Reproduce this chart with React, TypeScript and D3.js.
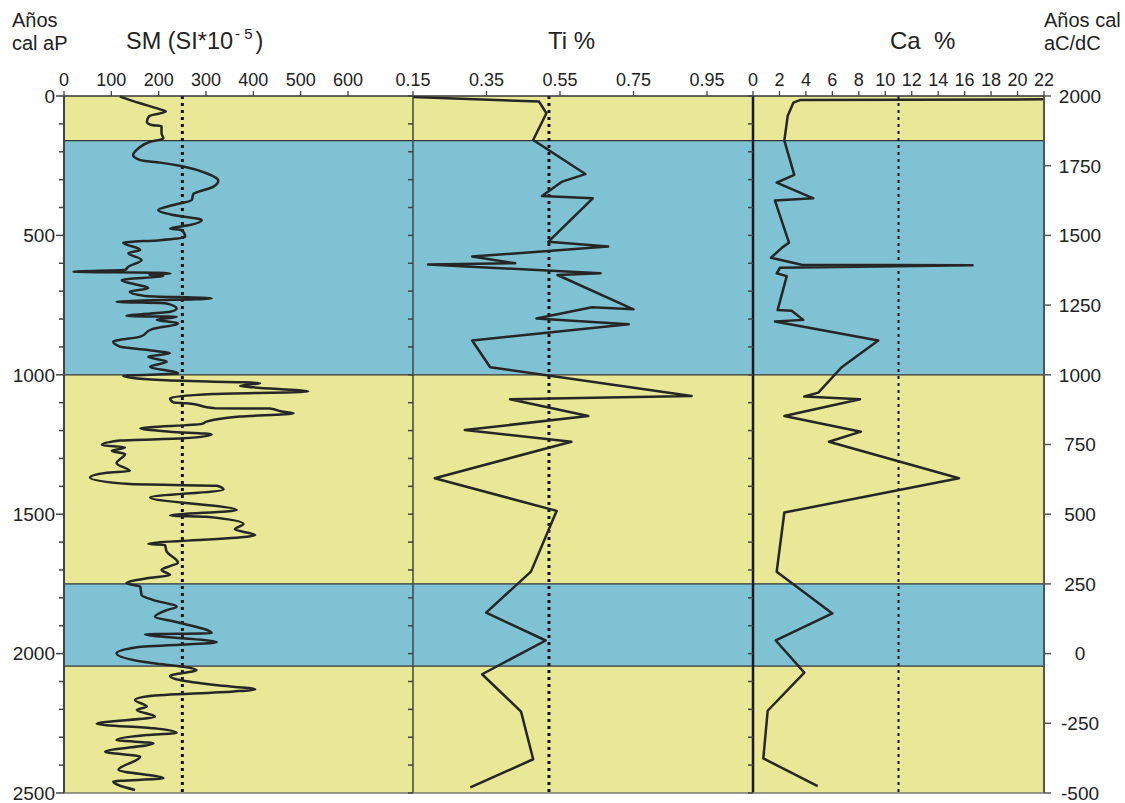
import * as d3 from "d3";

// depth in cal yr BP (left axis)
const smDepth = [2, 26, 48, 56, 72, 92, 104, 108, 134, 152, 164, 188, 212, 230, 239, 253, 277, 304, 325, 352, 373, 391, 409, 427, 445, 463, 475, 481, 505, 517, 526, 552, 564, 588, 612, 624, 630, 634, 637, 641, 645, 660, 690, 702, 717, 726, 738, 744, 762, 774, 789, 792, 803, 815, 837, 863, 881, 899, 911, 923, 935, 953, 971, 995, 1004, 1019, 1030, 1040, 1045, 1060, 1069, 1084, 1099, 1102, 1120, 1121, 1132, 1138, 1150, 1168, 1176, 1192, 1204, 1214, 1228, 1236, 1252, 1261, 1273, 1284, 1317, 1345, 1351, 1368, 1392, 1398, 1411, 1440, 1485, 1505, 1509, 1535, 1554, 1575, 1581, 1607, 1610, 1634, 1674, 1686, 1700, 1718, 1730, 1748, 1760, 1790, 1808, 1832, 1844, 1868, 1886, 1927, 1931, 1959, 1977, 1999, 2035, 2047, 2059, 2080, 2095, 2113, 2128, 2136, 2152, 2166, 2190, 2202, 2226, 2252, 2268, 2284, 2292, 2310, 2322, 2352, 2370, 2417, 2447, 2459, 2489];
const smValue = [118, 161, 203, 215, 180, 175, 185, 206, 206, 210, 182, 157, 146, 161, 203, 252, 301, 326, 316, 273, 270, 231, 199, 231, 291, 266, 224, 249, 256, 203, 125, 161, 136, 164, 136, 129, 20, 200, 225, 180, 210, 122, 178, 139, 171, 312, 111, 217, 238, 224, 132, 238, 196, 241, 185, 161, 104, 118, 178, 224, 178, 217, 182, 241, 125, 203, 414, 372, 400, 516, 316, 224, 231, 259, 319, 435, 460, 485, 372, 301, 291, 161, 224, 312, 252, 118, 80, 129, 101, 129, 111, 139, 90, 55, 139, 323, 337, 182, 365, 224, 301, 379, 361, 404, 386, 178, 213, 217, 241, 224, 206, 224, 175, 132, 161, 164, 189, 238, 217, 192, 235, 312, 171, 323, 154, 111, 189, 252, 280, 224, 245, 319, 404, 358, 182, 150, 175, 154, 192, 69, 189, 238, 175, 111, 189, 87, 161, 115, 210, 104, 150];

const tiDepth = [4, 20, 62, 158, 280, 307, 359, 367, 523, 540, 576, 600, 604, 636, 642, 765, 758, 798, 819, 877, 973, 1076, 1088, 1148, 1198, 1240, 1371, 1488, 1706, 1853, 1953, 2074, 2208, 2379, 2480];
const tiValue = [0.15, 0.493, 0.513, 0.477, 0.619, 0.556, 0.501, 0.639, 0.518, 0.681, 0.311, 0.428, 0.191, 0.66, 0.543, 0.75, 0.637, 0.486, 0.737, 0.311, 0.36, 0.908, 0.414, 0.627, 0.291, 0.581, 0.209, 0.541, 0.471, 0.349, 0.511, 0.338, 0.444, 0.477, 0.306];

const caDepth = [12, 14, 24, 72, 160, 283, 311, 367, 375, 526, 543, 580, 605, 607, 616, 636, 646, 768, 770, 803, 809, 877, 973, 1064, 1078, 1088, 1148, 1204, 1240, 1371, 1494, 1706, 1856, 1953, 2068, 2205, 2376, 2475];
const caValue = [22, 3.6, 3.05, 2.62, 2.37, 3.12, 1.79, 4.56, 1.66, 2.72, 2.22, 1.36, 3.68, 16.6, 2.04, 1.79, 2.55, 1.86, 2.92, 3.8, 1.66, 9.47, 6.7, 4.94, 3.88, 8.09, 2.37, 8.16, 5.74, 15.57, 2.37, 1.79, 6.0, 1.72, 3.88, 1.11, 0.78, 4.89];

// reference (mean) lines
const smMean = 250;
const tiMean = 0.52;
const caMean = 11;

// climate bands
const bandFrom = [0, 160, 1000, 1750, 2045];
const bandTo = [160, 1000, 1750, 2045, 2500];
const bandKind = ["warm", "cold", "warm", "cold", "warm"];

const smTicks = [0, 100, 200, 300, 400, 500, 600];
const tiTicks = [0.15, 0.35, 0.55, 0.75, 0.95];
const caTicks = [0, 2, 4, 6, 8, 10, 12, 14, 16, 18, 20, 22];
const bpLabels = [0, 500, 1000, 1500, 2000, 2500];
const adLabels = [2000, 1750, 1500, 1250, 1000, 750, 500, 250, 0, -250, -500];

const font = "'Liberation Sans', Arial, sans-serif";
const ink = "#262626";

export default function App() {
  const top = 96, bottom = 793;
  const left = 64, p1 = 413, p2 = 753, right = 1044;

  const y = d3.scaleLinear().domain([0, 2500]).range([top, bottom]);
  const yAD = d3.scaleLinear().domain([2000, -500]).range([top, bottom]);
  const xSM = d3.scaleLinear().domain([0, 600]).range([64, 348]);
  const xTi = d3.scaleLinear().domain([0.15, 0.95]).range([413, 707]);
  const xCa = d3.scaleLinear().domain([0, 22]).range([753, 1044]);

  const fill = { warm: "#e9e897", cold: "#7fc2d3" } as Record<string, string>;

  const smLine = d3
    .line<number>()
    .x((_, i) => xSM(smValue[i]))
    .y((d) => y(d))
    .curve(d3.curveMonotoneY)(smDepth);
  const tiLine = d3
    .line<number>()
    .x((_, i) => xTi(tiValue[i]))
    .y((d) => y(d))(tiDepth);
  const caLine = d3
    .line<number>()
    .x((_, i) => xCa(caValue[i]))
    .y((d) => y(d))(caDepth);

  const minor = d3.range(0, 2501, 100);

  return (
    <svg
      width={1125}
      height={803}
      style={{ position: "absolute", left: 0, top: 0, background: "#fff" }}
      fontFamily={font}
    >
      {/* bands */}
      {bandFrom.map((b, i) => (
        <rect
          key={i}
          x={left}
          y={y(b)}
          width={right - left}
          height={y(bandTo[i]) - y(b)}
          fill={fill[bandKind[i]]}
        />
      ))}
      {bandFrom.slice(1).map((b, i) => (
        <line key={i} x1={left} x2={right} y1={y(b)} y2={y(b)} stroke="#333" strokeWidth={1.3} />
      ))}

      {/* mean lines */}
      {[xSM(smMean), xTi(tiMean), xCa(caMean)].map((x, i) => (
        <line
          key={i}
          x1={x}
          x2={x}
          y1={top}
          y2={bottom}
          stroke="#111"
          strokeWidth={i === 2 ? 2 : 3}
          strokeDasharray="3,4"
        />
      ))}

      {/* data */}
      <path d={smLine || ""} fill="none" stroke={ink} strokeWidth={2.5} strokeLinejoin="round" />
      <path d={tiLine || ""} fill="none" stroke={ink} strokeWidth={2.5} strokeLinejoin="round" />
      <path d={caLine || ""} fill="none" stroke={ink} strokeWidth={2.5} strokeLinejoin="round" />

      {/* panel frames */}
      <line x1={left} x2={left} y1={top} y2={bottom} stroke="#444" strokeWidth={2} />
      <line x1={p1} x2={p1} y1={top} y2={bottom} stroke="#444" strokeWidth={1.5} />
      <line x1={p2} x2={p2} y1={top} y2={bottom} stroke="#1a1a1a" strokeWidth={2.5} />
      <line x1={right} x2={right} y1={top} y2={bottom} stroke="#555" strokeWidth={2} />
      <line x1={left} x2={right} y1={top} y2={top} stroke="#333" strokeWidth={1.5} />
      <line x1={left} x2={right} y1={bottom} y2={bottom} stroke="#777" strokeWidth={1.5} />

      {/* depth ticks on panel borders */}
      {[left, p1, p2].map((px) =>
        minor.map((d) => (
          <line key={px + "-" + d} x1={px - (px === left && d % 500 === 0 ? 8 : 5)} x2={px} y1={y(d)} y2={y(d)} stroke="#444" strokeWidth={1.5} />
        ))
      )}

      {/* top ticks */}
      {smTicks.map((t) => (
        <g key={"s" + t}>
          <line x1={xSM(t)} x2={xSM(t)} y1={top - 5} y2={top} stroke="#444" strokeWidth={1.3} />
          <text x={xSM(t)} y={86} textAnchor="middle" fontSize={18} fill="#222">{t}</text>
        </g>
      ))}
      {tiTicks.map((t) => (
        <g key={"t" + t}>
          <line x1={xTi(t)} x2={xTi(t)} y1={top - 5} y2={top} stroke="#444" strokeWidth={1.3} />
          <text x={xTi(t)} y={86} textAnchor="middle" fontSize={18} fill="#222">{t.toFixed(2)}</text>
        </g>
      ))}
      {caTicks.map((t) => (
        <g key={"c" + t}>
          <line x1={xCa(t)} x2={xCa(t)} y1={top - 5} y2={top} stroke="#444" strokeWidth={1.3} />
          <text x={xCa(t)} y={86} textAnchor="middle" fontSize={18} fill="#222">{t}</text>
        </g>
      ))}

      {/* left axis labels */}
      {bpLabels.map((d) => (
        <text key={d} x={55} y={y(d)} dy="0.36em" textAnchor="end" fontSize={19} fill="#222">{d}</text>
      ))}

      {/* right axis */}
      {adLabels.map((a) => (
        <g key={a}>
          <line x1={right} x2={right + 7} y1={yAD(a)} y2={yAD(a)} stroke="#555" strokeWidth={1.5} />
          <text x={1080} y={yAD(a)} dy="0.36em" textAnchor="middle" fontSize={19} fill="#222">{a}</text>
        </g>
      ))}

      {/* headers */}
      <text x={12} y={27} fontSize={20} fill="#222">Años</text>
      <text x={12} y={50} fontSize={20} fill="#222">cal aP</text>
      <text x={126} y={49} fontSize={23.5} fill="#222">
        SM (SI*10<tspan dx={2} dy={-10} fontSize={15}>- 5</tspan>
        <tspan dx={3} dy={10}>)</tspan>
      </text>
      <text x={548} y={49} fontSize={24} fill="#222">Ti %</text>
      <text x={890} y={49} fontSize={24} fill="#222" style={{ whiteSpace: "pre" }}>Ca  %</text>
      <text x={1044} y={27} fontSize={20} fill="#222">Años cal</text>
      <text x={1044} y={50} fontSize={20} fill="#222">aC/dC</text>
    </svg>
  );
}
